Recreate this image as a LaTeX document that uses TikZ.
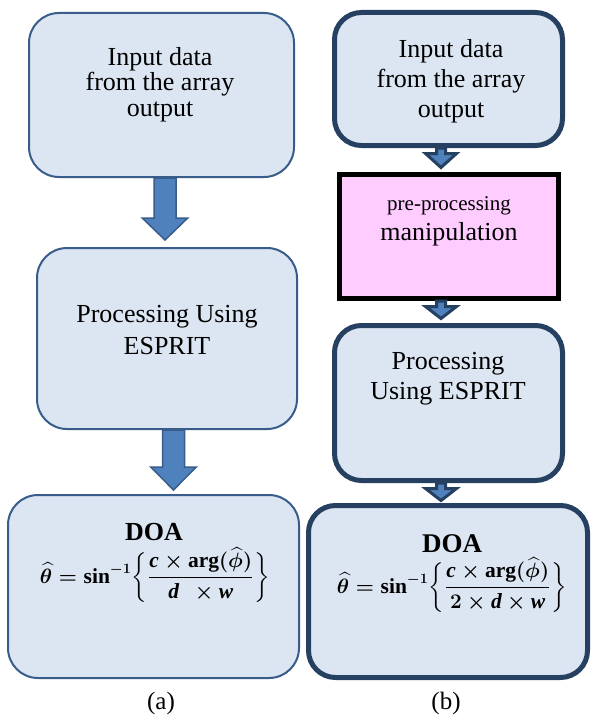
\documentclass[tikz,border=0pt]{standalone}
\usepackage{amsmath}
\usepackage{fontspec}
\setmainfont{Liberation Serif}
\usetikzlibrary{calc}
\definecolor{boxfill}{RGB}{220,230,242}
\definecolor{borderL}{RGB}{56,93,138}
\definecolor{borderR}{RGB}{37,64,97}
\definecolor{arrowfill}{RGB}{79,129,189}
\definecolor{pinkfill}{RGB}{255,204,255}
\newcommand{\bvar}[1]{\text{\bfseries\itshape #1}}
\newcommand{\bigbrl}{\mathopen{\left\lbrace\vcenter to 46pt{}\right.}}
\newcommand{\bigbrr}{\mathclose{\left.\vcenter to 46pt{}\right\rbrace}}
\newcommand{\doaformA}{\mbox{\boldmath$\displaystyle\widehat{\theta}=\sin^{-1}\bigbrl\frac{\bvar{c}\times\arg(\widehat{\phi})}{\bvar{d}\;\,\times \bvar{w}}\bigbrr$}}
\newcommand{\doaformB}{\mbox{\boldmath$\displaystyle\widehat{\theta}=\sin^{-1}\bigbrl\frac{\bvar{c}\times\arg(\widehat{\phi})}{2\times \bvar{d}\times \bvar{w}}\bigbrr$}}
\newcommand{\blockarrow}[6]{%
  \draw[#1] let \p1=#2, \p2=#3 in
    (\x1-#4,\y1) -- (\x1-#4,\y2+#6) -- (\x1-#5,\y2+#6) -- (\x1,\y2)
    -- (\x1+#5,\y2+#6) -- (\x1+#4,\y2+#6) -- (\x1+#4,\y1) -- cycle;}
\begin{document}
\begin{tikzpicture}[x=1pt,y=-1pt,
  boxL/.style={draw=borderL, line width=2pt, fill=boxfill, rounded corners=30pt, inner sep=0pt},
  boxR/.style={draw=borderR, line width=5pt, fill=boxfill, rounded corners=27pt, inner sep=0pt},
  pinkbox/.style={draw=black, line width=5pt, fill=pinkfill, inner sep=0pt},
  txt/.style={align=center, inner sep=0pt, font=\fontsize{26}{30}\selectfont},
  formulatxt/.style={inner sep=0pt, anchor=base, font=\fontsize{21.5}{26}\selectfont},
  arrL/.style={draw=borderL, line width=1.5pt, fill=arrowfill, line join=miter},
  arrR/.style={draw=borderR, line width=3pt, fill=arrowfill, line join=miter}]
\fill[white] (0,0) rectangle (595,717);
\useasboundingbox (0,0) rectangle (595,717);

% ---- left column (a)
\node[boxL, minimum width=265pt, minimum height=164pt] (a1) at (161.5,95) {};
\node[boxL, minimum width=260pt, minimum height=181pt] (a2) at (167,338.5) {};
\node[boxL, minimum width=291pt, minimum height=183pt] (a3) at (153.5,586.5) {};

\node[txt, font=\fontsize{26}{25.5}\selectfont] (a1t) at (160,84.4) {Input data\\from the array\\output};
\node[txt, font=\fontsize{26}{32}\selectfont] (a2t) at (167,330) {Processing Using\\ESPRIT};
\node[txt, anchor=base, font=\bfseries\fontsize{26}{30}\selectfont] (a3d) at (154,540) {DOA};
\node[formulatxt] (a3f) at (155,583) {\doaformA};

\coordinate (ax1) at (165,0);
\coordinate (ax2) at (173.5,0);
\blockarrow{arrL}{(ax1 |- a1.south)}{($(ax1 |- a2.north)+(0,-7)$)}{11pt}{22.75pt}{22pt}
\blockarrow{arrL}{(ax2 |- a2.south)}{($(ax2 |- a3.north)+(0,-4)$)}{11pt}{22.75pt}{23pt}

% ---- right column (b)
\node[boxR, minimum width=228pt, minimum height=133pt] (b1) at (448.5,79) {};
\node[pinkbox, minimum width=219pt, minimum height=124pt] (b2) at (449,236.5) {};
\node[boxR, minimum width=228pt, minimum height=155pt] (b3) at (448.5,403) {};
\node[boxR, minimum width=279pt, minimum height=172pt] (b4) at (448,591.5) {};

\node[txt] (b1t) at (451,80.9) {Input data\\from the array\\output};
\node[txt, anchor=base, font=\fontsize{21}{25}\selectfont] (b2a) at (449,210) {pre-processing};
\node[txt, anchor=base] (b2b) at (449,240) {manipulation};
\node[txt] (b3t) at (448,378.9) {Processing\\Using ESPRIT};
\node[txt, anchor=base, font=\bfseries\fontsize{27}{30}\selectfont] (b4d) at (452,552) {DOA};
\node[formulatxt] (b4f) at (452,593) {\doaformB};

\coordinate (bx) at (441,0);
\blockarrow{arrR}{(bx |- b1.south)}{($(bx |- b2.north)+(0,-4.5)$)}{4.5pt}{15.5pt}{14pt}
\blockarrow{arrR}{(bx |- b2.south)}{($(bx |- b3.north)+(0,-4.5)$)}{4.5pt}{15.5pt}{12pt}
\blockarrow{arrR}{(bx |- b3.south)}{($(bx |- b4.north)+(0,-2.5)$)}{4.5pt}{15.5pt}{12pt}

% ---- captions
\node[txt, font=\fontsize{25}{30}\selectfont] (capa) at (161,703) {(a)};
\node[txt, font=\fontsize{25}{30}\selectfont] (capb) at (446,703) {(b)};
\end{tikzpicture}
\end{document}
